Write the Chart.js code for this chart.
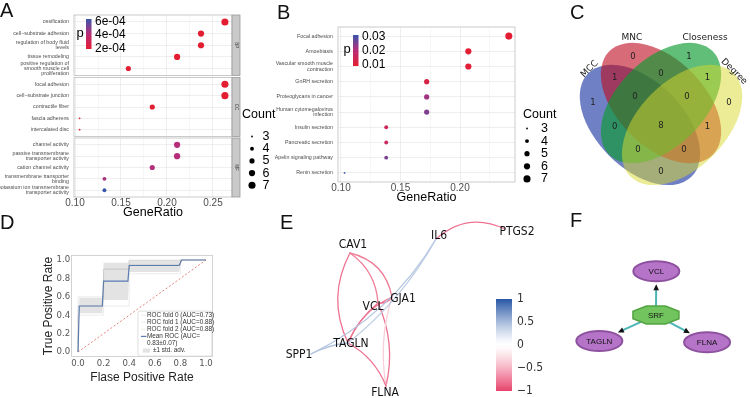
<!DOCTYPE html>
<html>
<head>
<meta charset="utf-8">
<script src="https://cdn.jsdelivr.net/npm/chart.js@4.4.1/dist/chart.umd.min.js"></script>
<style>
  html, body { margin: 0; padding: 0; background: #fff; }
  #page { position: relative; width: 750px; height: 398px; overflow: hidden; font-family: "Liberation Sans", Arial, sans-serif; }
  #page canvas { position: absolute; left: 0; top: 0; }
  .tag { position: absolute; font-size: 20px; line-height: 20px; color: #111; }
</style>
</head>
<body>
<div id="page">
  <canvas id="a1" width="750" height="398"></canvas>
  <canvas id="a2" width="750" height="398"></canvas>
  <canvas id="a3" width="750" height="398"></canvas>
  <canvas id="b" width="750" height="398"></canvas>
  <canvas id="c" width="750" height="398"></canvas>
  <canvas id="d" width="750" height="398"></canvas>
  <canvas id="e" width="750" height="398"></canvas>
  <canvas id="f" width="750" height="398"></canvas>
  <div class="tag" style="left:0px;top:0px">A</div>
  <div class="tag" style="left:277px;top:2px">B</div>
  <div class="tag" style="left:570px;top:2px">C</div>
  <div class="tag" style="left:0px;top:212px">D</div>
  <div class="tag" style="left:280px;top:212px">E</div>
  <div class="tag" style="left:570px;top:210px">F</div>
</div>
<script>
// ---- A: GO enrichment, three facets
const bpTerms = ['ossification', 'cell−substrate adhesion', ['regulation of body fluid', 'levels'], 'tissue remodeling', ['positive regulation of', 'smooth muscle cell', 'proliferation']];
const bpRatio = [0.263, 0.237, 0.237, 0.211, 0.158];
const bpCount = [7, 6, 6, 6, 5];
const bpP = [1.9e-4, 1.9e-4, 1.9e-4, 1.9e-4, 2.0e-4];

const ccTerms = ['focal adhesion', 'cell−substrate junction', 'contractile fiber', 'fascia adherens', 'intercalated disc'];
const ccRatio = [0.263, 0.263, 0.184, 0.105, 0.105];
const ccCount = [7, 7, 5, 3, 3];
const ccP = [1.9e-4, 1.9e-4, 1.9e-4, 2.0e-4, 2.0e-4];

const mfTerms = ['channel activity', ['passive transmembrane', 'transporter activity'], 'cation channel activity', ['transmembrane transporter', 'binding'], ['potassium ion transmembrane', 'transporter activity']];
const mfRatio = [0.211, 0.211, 0.184, 0.132, 0.132];
const mfCount = [6, 6, 5, 4, 4];
const mfP = [4.2e-4, 4.2e-4, 4.3e-4, 4.5e-4, 6.4e-4];

const ratioGridA = [0.1, 0.125, 0.15, 0.175, 0.2, 0.225, 0.25];
const ratioTicksA = [0.1, 0.15, 0.2, 0.25];
const pTicksA = [6e-4, 4e-4, 2e-4];
const pLabelsA = ['6e-04', '4e-04', '2e-04'];
const countTicks = [3, 4, 5, 6, 7];

// ---- B: KEGG enrichment
const keggTerms = ['Focal adhesion', 'Amoebiasis', ['Vascular smooth muscle', 'contraction'], 'GnRH secretion', 'Proteoglycans in cancer', ['Human cytomegalovirus', 'infection'], 'Insulin secretion', 'Pancreatic secretion', 'Apelin signaling pathway', 'Renin secretion'];
const keggRatio = [0.241, 0.207, 0.207, 0.172, 0.172, 0.172, 0.138, 0.138, 0.138, 0.103];
const keggCount = [7, 6, 6, 5, 5, 5, 4, 4, 4, 3];
const keggP = [0.009, 0.0095, 0.0098, 0.012, 0.022, 0.025, 0.015, 0.0165, 0.0255, 0.031];
const ratioGridB = [0.1, 0.125, 0.15, 0.175, 0.2, 0.225];
const ratioTicksB = [0.1, 0.15, 0.2];
const pTicksB = [0.03, 0.02, 0.01];
const pLabelsB = ['0.03', '0.02', '0.01'];

// ---- C: Venn of hub-gene methods (region key = MCC,MNC,Closeness,Degree)
const vennSets = ['MCC', 'MNC', 'Closeness', 'Degree'];
const vennRegions = ['1000', '0100', '0010', '0001', '1100', '0110', '0011', '1010', '0101', '1001', '1110', '0111', '1011', '1101', '1111'];
const vennCounts = [1, 0, 1, 0, 1, 0, 1, 0, 1, 0, 0, 0, 0, 0, 8];

// ---- D: ROC
const foldLabels = ['ROC fold 0 (AUC=0.73)', 'ROC fold 1 (AUC=0.88)', 'ROC fold 2 (AUC=0.88)'];
const foldFpr = [0, 0, 0.2, 0.2, 0.4, 0.4, 0.8, 0.8, 1];
const fold0Tpr = [0, 0.4, 0.4, 0.5, 0.5, 0.85, 0.85, 1, 1];
const fold1Tpr = [0, 0.5, 0.5, 0.9, 0.9, 0.95, 0.95, 1, 1];
const fold2Tpr = [0, 0.6, 0.6, 0.9, 0.9, 1, 1, 1, 1];
const meanFpr = [0, 0.01, 0.19, 0.2, 0.39, 0.4, 0.79, 0.81, 1];
const meanTpr = [0, 0.5, 0.5, 0.77, 0.77, 0.94, 0.94, 1, 1];
const stdHi = [0, 0.59, 0.59, 0.97, 0.97, 1, 1, 1, 1];
const stdLo = [0, 0.42, 0.42, 0.565, 0.565, 0.87, 0.87, 1, 1];
const rateTicks = [0, 0.2, 0.4, 0.6, 0.8, 1];

// ---- E: correlation network
const eNodes = ['CAV1', 'IL6', 'PTGS2', 'VCL', 'GJA1', 'TAGLN', 'SPP1', 'FLNA'];
const eFrom = ['CAV1', 'CAV1', 'CAV1', 'VCL', 'VCL', 'VCL', 'GJA1', 'GJA1', 'TAGLN', 'IL6', 'SPP1', 'TAGLN', 'SPP1'];
const eTo = ['TAGLN', 'VCL', 'GJA1', 'GJA1', 'TAGLN', 'FLNA', 'TAGLN', 'FLNA', 'FLNA', 'PTGS2', 'IL6', 'IL6', 'TAGLN'];
const eCorr = [-0.8, -0.75, -0.75, -0.85, -0.8, -0.8, -0.8, -0.35, -0.8, -0.8, 0.45, 0.4, 0.45];
const corrTicks = [1, 0.5, 0, -0.5, -1];
const corrLabels = ['1', '0.5', '0', '−0.5', '−1'];

// ---- F: TF network
const fNodes = ['SRF', 'VCL', 'TAGLN', 'FLNA'];
const fFrom = ['SRF', 'SRF', 'SRF'];
const fTo = ['VCL', 'TAGLN', 'FLNA'];

// ---- layout (not data)
const W = 750, H = 398;
const vennCx = [0.376, 0.5, 0.5, 0.624], vennCy = [0.371, 0.5, 0.5, 0.371], vennTilt = [1, 1, -1, -1];
const vennA = 0.43, vennB = 0.256;
const vennFill = ['rgba(17,43,157,0.6)', 'rgba(188,10,30,0.6)', 'rgba(10,155,47,0.65)', 'rgba(217,217,45,0.5)'];
const vennRegionX = [0.1, 0.335, 0.665, 0.9, 0.227, 0.5, 0.773, 0.227, 0.773, 0.5, 0.347, 0.653, 0.365, 0.635, 0.5];
const vennRegionY = [0.5, 0.773, 0.773, 0.5, 0.65, 0.671, 0.65, 0.362, 0.362, 0.094, 0.535, 0.535, 0.224, 0.224, 0.365];
const vennNameX = [0.08, 0.329, 0.759, 0.93], vennNameY = [0.7, 0.882, 0.882, 0.685], vennNameRot = [-45, 0, 0, 45];
const eNodeX = [3.6, 7.04, 9.8, 4.72, 5.28, 3.52, 2.04, 5.04];
const eNodeY = [5.8, 6.36, 6.76, 3.8, 4.04, 2.2, 1.76, 0.48];
const eLabelDX = [3, 3, 12, -5, 11, 3, -12, -1], eLabelDY = [-8, -3, 3, 4, 2, 1, 1, 7];
const eBend = [0.25, -0.24, -0.32, 0.3, 0.12, -0.17, 0.2, 0.12, -0.18, -0.33, 0.15, 0.1, -0.1];
const fNodeX = [0.505, 0.507, 0.207, 0.774], fNodeY = [0.437, 0.667, 0.3, 0.293];

const SANS = '"Liberation Sans", Arial, sans-serif';
const NARROW = '"Liberation Sans Narrow", "DejaVu Sans Condensed", "Liberation Sans", sans-serif';
const DEJAVU = '"DejaVu Sans", sans-serif';
Chart.defaults.font.family = SANS;
Chart.defaults.color = '#4d4d4d';
Chart.defaults.animation = false;
Chart.defaults.events = [];
Chart.defaults.plugins.legend.display = false;
Chart.defaults.plugins.tooltip.enabled = false;

const rOf = n => Math.sqrt(0.8 + 2.95 * (n - 3));
const lowCol = [228, 30, 50], midCol = [185, 45, 120], highCol = [55, 85, 170];
function pColor(v, min, max) {
  const t = Math.max(0, Math.min(1, (v - min) / (max - min)));
  const [c0, c1, u] = t < 0.5 ? [lowCol, midCol, t * 2] : [midCol, highCol, t * 2 - 1];
  return 'rgb(' + c0.map((c, i) => Math.round(c + (c1[i] - c) * u)).join(',') + ')';
}
const negCol = [232, 67, 108], posCol = [39, 87, 166];
function corrColor(r) {
  const c = r < 0 ? negCol : posCol, f = Math.pow(Math.abs(r), 1.3);
  return 'rgb(' + c.map(v => Math.round(255 + (v - 255) * f)).join(',') + ')';
}

const allPA = bpP.concat(ccP, mfP);
const pMinA = Math.min(...allPA), pMaxA = Math.max(...allPA);
const pMinB = Math.min(...keggP), pMaxB = Math.max(...keggP);

// ---- plugins
const frame = {
  id: 'frame',
  afterDatasetsDraw(chart, _a, o) {
    const { left, top, right, bottom } = chart.chartArea, c = chart.ctx;
    c.save();
    c.strokeStyle = o.color; c.lineWidth = o.width;
    c.strokeRect(left, top, right - left, bottom - top);
    if (o.strip) {
      c.fillStyle = '#c9c9c9';
      c.fillRect(right, top, o.strip, bottom - top);
      c.strokeStyle = '#9a9a9a';
      c.strokeRect(right, top, o.strip, bottom - top);
      c.translate(right + o.strip / 2, (top + bottom) / 2);
      c.rotate(Math.PI / 2);
      c.fillStyle = '#333'; c.font = '4.5px ' + SANS;
      c.textAlign = 'center'; c.textBaseline = 'middle';
      c.fillText(o.label, 0, 0);
    }
    c.restore();
  }
};

const pBar = {
  id: 'pBar',
  afterDraw(chart, _a, o) {
    const c = chart.ctx, { x, y, w, h, min, max, ticks, labels } = o;
    const g = c.createLinearGradient(0, y + h, 0, y);
    for (let k = 0; k <= 10; k++) g.addColorStop(k / 10, pColor(min + (max - min) * k / 10, min, max));
    c.save();
    c.fillStyle = g; c.fillRect(x, y, w, h);
    c.fillStyle = '#000'; c.font = '12px ' + SANS; c.textBaseline = 'middle'; c.textAlign = 'left';
    ticks.forEach((v, k) => c.fillText(labels[k], x + w + 3.5, y + h - (v - min) / (max - min) * h));
    c.font = '13px ' + SANS; c.textAlign = 'center';
    c.fillText('p', x - 6, y + h / 2 - 1);
    c.restore();
  }
};

const sizeKey = {
  id: 'sizeKey',
  afterDraw(chart, _a, o) {
    const c = chart.ctx;
    c.save(); c.fillStyle = '#000';
    c.font = '12.5px ' + SANS; c.textBaseline = 'middle'; c.textAlign = 'left';
    c.fillText('Count', o.x, o.y);
    countTicks.forEach((n, k) => {
      const yy = o.y0 + k * o.dy;
      c.beginPath(); c.arc(o.dot, yy, rOf(n), 0, 2 * Math.PI); c.fill();
      c.fillText(String(n), o.lab, yy);
    });
    c.restore();
  }
};

function ratioAxis(grid, major, min, max, show, h) {
  return {
    type: 'linear', min, max, bounds: 'data',
    afterBuildTicks: s => { s.ticks = grid.map(value => ({ value })); },
    afterFit: s => { s.height = h; },
    ticks: { display: show, autoSkip: false, maxRotation: 0, padding: 0, color: '#4d4d4d', font: { size: 10 },
             callback: v => major.includes(v) ? v.toFixed(2) : '' },
    grid: { drawTicks: false, lineWidth: 0.6, color: c => major.includes(c.tick.value) ? '#e3e3e3' : '#f1f1f1' },
    border: { display: false },
    title: { display: show, text: 'GeneRatio', color: '#000', font: { size: 12.5 }, padding: 0 }
  };
}
function termAxis(terms, width) {
  return {
    type: 'linear', reverse: true, min: -0.6, max: terms.length - 0.4, bounds: 'data',
    afterBuildTicks: s => { s.ticks = terms.map((_, value) => ({ value })); },
    afterFit: s => { s.width = width; },
    ticks: { autoSkip: false, padding: 5, color: '#4d4d4d', font: { size: 5.3, lineHeight: 1 }, callback: v => terms[v] },
    grid: { drawTicks: false, lineWidth: 0.6, color: '#e3e3e3' },
    border: { display: false }
  };
}

function facet(id, terms, ratio, count, p, top, bottom, label, last, extra, extraPlugins) {
  const xh = last ? 23.3 : 0;
  return new Chart(document.getElementById(id), {
    type: 'bubble',
    data: { datasets: [{
      data: ratio.map((x, i) => ({ x, y: i, r: rOf(count[i]) })),
      backgroundColor: p.map(v => pColor(v, pMinA, pMaxA)),
      borderWidth: 0
    }] },
    options: {
      responsive: false, devicePixelRatio: 1,
      layout: { padding: { left: 0, top, right: W - 232, bottom: H - bottom - xh } },
      scales: { x: ratioAxis(ratioGridA, ratioTicksA, 0.0989, 0.2707, last, xh), y: termAxis(terms, 74) },
      plugins: Object.assign({ frame: { color: '#bdbdbd', width: 0.8, strip: 8, label } }, extra)
    },
    plugins: [frame].concat(extraPlugins)
  });
}

facet('a1', bpTerms, bpRatio, bpCount, bpP, 15, 75.5, 'BP', false,
  { pBar: { x: 86, y: 19, w: 5.5, h: 30, min: pMinA, max: pMaxA, ticks: pTicksA, labels: pLabelsA } }, [pBar]);
facet('a2', ccTerms, ccRatio, ccCount, ccP, 77.5, 136.5, 'CC', false, {}, []);
facet('a3', mfTerms, mfRatio, mfCount, mfP, 138, 197, 'MF', true,
  { sizeKey: { x: 242, y: 115, y0: 136.5, dy: 12.2, dot: 252, lab: 262.5 } }, [sizeKey]);

// ---- B
new Chart(document.getElementById('b'), {
  type: 'bubble',
  data: { datasets: [{
    data: keggRatio.map((x, i) => ({ x, y: i, r: rOf(keggCount[i]) })),
    backgroundColor: keggP.map(v => pColor(v, pMinB, pMaxB)),
    borderWidth: 0
  }] },
  options: {
    responsive: false, devicePixelRatio: 1,
    layout: { padding: { left: 258, top: 27, right: W - 515, bottom: H - 182 - 23.4 } },
    scales: { x: ratioAxis(ratioGridB, ratioTicksB, 0.0975, 0.2462, true, 23.4), y: termAxis(keggTerms, 80) },
    plugins: {
      frame: { color: '#bdbdbd', width: 0.8 },
      pBar: { x: 353, y: 35, w: 5.5, h: 31, min: pMinB, max: pMaxB, ticks: pTicksB, labels: pLabelsB },
      sizeKey: { x: 523, y: 115, y0: 128.5, dy: 12.6, dot: 527, lab: 541 }
    }
  },
  plugins: [frame, pBar, sizeKey]
});

// ---- C: Venn
const venn = {
  id: 'venn',
  beforeDatasetsDraw(chart) {
    const c = chart.ctx, sx = chart.scales.x, sy = chart.scales.y;
    const k = sx.getPixelForValue(1) - sx.getPixelForValue(0);
    c.save();
    vennSets.forEach((s, i) => {
      c.fillStyle = vennFill[i];
      c.beginPath();
      c.ellipse(sx.getPixelForValue(vennCx[i]), sy.getPixelForValue(vennCy[i]), vennA * k, vennB * k, vennTilt[i] * Math.PI / 4, 0, 2 * Math.PI);
      c.fill();
    });
    c.fillStyle = '#222'; c.textAlign = 'center'; c.textBaseline = 'middle';
    c.font = '9px ' + DEJAVU;
    vennSets.forEach((s, i) => {
      c.save();
      c.translate(sx.getPixelForValue(vennNameX[i]), sy.getPixelForValue(vennNameY[i]));
      c.rotate(vennNameRot[i] * Math.PI / 180);
      c.fillText(s, 0, 0);
      c.restore();
    });
    c.font = '8.5px ' + DEJAVU;
    const meta = chart.getDatasetMeta(0);
    meta.data.forEach((pt, i) => c.fillText(String(vennCounts[i]), pt.x, pt.y));
    c.restore();
  }
};
new Chart(document.getElementById('c'), {
  type: 'scatter',
  data: { datasets: [{ label: 'regions', data: vennRegions.map((r, i) => ({ x: vennRegionX[i], y: vennRegionY[i] })), pointRadius: 0 }] },
  options: {
    responsive: false, devicePixelRatio: 1,
    layout: { padding: { left: 576, top: 35, right: W - 746, bottom: H - 188 } },
    scales: { x: { display: false, min: 0, max: 1 }, y: { display: false, min: 0, max: 0.9 } }
  },
  plugins: [venn]
});

// ---- D: ROC
const rocKey = {
  id: 'rocKey',
  afterDraw(chart) {
    const c = chart.ctx, a = chart.chartArea;
    const r = a.right - 0.5, b = a.bottom - 0.5, l = r - 74, t = b - 45;
    c.save();
    c.fillStyle = 'rgba(255,255,255,0.85)'; c.strokeStyle = '#d6d6d6'; c.lineWidth = 0.8;
    c.beginPath();
    if (c.roundRect) c.roundRect(l, t, r - l, b - t, 2); else c.rect(l, t, r - l, b - t);
    c.fill(); c.stroke();
    c.font = '6.4px ' + SANS; c.textBaseline = 'middle'; c.textAlign = 'left';
    let y = t + 4;
    chart.data.datasets.forEach(ds => {
      if (!ds.label) return;
      if (ds.fill) {
        c.fillStyle = ds.backgroundColor; c.fillRect(l + 5, y - 2, 7, 4);
      } else {
        c.strokeStyle = ds.borderColor; c.lineWidth = ds.borderWidth;
        c.beginPath(); c.moveTo(l + 3, y); c.lineTo(l + 8.5, y); c.stroke();
      }
      c.fillStyle = '#333';
      [].concat(ds.label).forEach(s => { c.fillText(s, l + (ds.fill ? 15 : 9), y); y += 7.1; });
    });
    c.restore();
  }
};
const pts = (xs, ys) => xs.map((x, i) => ({ x, y: ys[i] }));
const rateAxis = (title, w, h) => ({
  type: 'linear', min: -0.05, max: 1.05, bounds: 'data',
  afterBuildTicks: s => { s.ticks = rateTicks.map(value => ({ value })); },
  afterFit: s => { if (w) s.width = w; if (h) s.height = h; },
  ticks: { autoSkip: false, maxRotation: 0, padding: 1.5, color: '#555', font: { family: NARROW, size: 9.5 }, callback: v => v.toFixed(1) },
  grid: { display: false, drawTicks: false },
  border: { display: false },
  title: { display: true, text: title, color: '#222', font: { size: 12 }, padding: 0 }
});
new Chart(document.getElementById('d'), {
  type: 'scatter',
  data: { datasets: [
    { label: foldLabels[0], data: pts(foldFpr, fold0Tpr), showLine: true, borderColor: 'rgba(120,120,120,0.18)', borderWidth: 0.8, pointRadius: 0 },
    { label: foldLabels[1], data: pts(foldFpr, fold1Tpr), showLine: true, borderColor: 'rgba(120,120,120,0.18)', borderWidth: 0.8, pointRadius: 0 },
    { label: foldLabels[2], data: pts(foldFpr, fold2Tpr), showLine: true, borderColor: 'rgba(120,120,120,0.18)', borderWidth: 0.8, pointRadius: 0 },
    { label: ['Mean ROC (AUC=', '0.83±0.07)'], data: pts(meanFpr, meanTpr), showLine: true, borderColor: '#5a7db3', borderWidth: 1.2, pointRadius: 0 },
    { label: '±1 std. adv.', data: pts(meanFpr, stdHi), showLine: true, borderWidth: 0, pointRadius: 0, fill: '+1', backgroundColor: 'rgba(185,185,185,0.4)' },
    { data: pts(meanFpr, stdLo), showLine: true, borderWidth: 0, pointRadius: 0, fill: false },
    { data: [{ x: 0, y: 0 }, { x: 1, y: 1 }], showLine: true, borderColor: '#e0625c', borderWidth: 0.8, borderDash: [2, 2], pointRadius: 0 }
  ] },
  options: {
    responsive: false, devicePixelRatio: 1,
    layout: { padding: { left: 41.8, top: 255.4, right: W - 212.4, bottom: H - 356.6 - 28.1 } },
    scales: { x: rateAxis('Flase Positive Rate', 0, 28.1), y: rateAxis('True Positive Rate', 29.8, 0) },
    plugins: { frame: { color: '#c8c8c8', width: 0.8 } }
  },
  plugins: [frame, rocKey]
});

// ---- E: correlation network
const netE = {
  id: 'netE',
  afterDatasetsDraw(chart) {
    const c = chart.ctx, sx = chart.scales.x, sy = chart.scales.y;
    const P = n => { const i = eNodes.indexOf(n); return [sx.getPixelForValue(eNodeX[i]), sy.getPixelForValue(eNodeY[i])]; };
    c.save();
    c.lineWidth = 1.3; c.lineCap = 'round';
    eFrom.forEach((f, k) => {
      const [x1, y1] = P(f), [x2, y2] = P(eTo[k]);
      const dx = x2 - x1, dy = y2 - y1;
      const cx = (x1 + x2) / 2 - dy * eBend[k], cy = (y1 + y2) / 2 + dx * eBend[k];
      c.strokeStyle = corrColor(eCorr[k]);
      c.beginPath(); c.moveTo(x1, y1); c.quadraticCurveTo(cx, cy, x2, y2); c.stroke();
    });
    c.fillStyle = '#111'; c.textAlign = 'center'; c.textBaseline = 'middle';
    c.font = '12px ' + NARROW;
    eNodes.forEach((n, i) => { const [x, y] = P(n); c.fillText(n, x + eLabelDX[i], y + eLabelDY[i]); });
    // colour bar
    const bx = 496, by = 299, bw = 16, bh = 92;
    const g = c.createLinearGradient(0, by + bh, 0, by);
    for (let k = 0; k <= 20; k++) g.addColorStop(k / 20, corrColor(-1 + k / 10));
    c.fillStyle = g; c.fillRect(bx, by, bw, bh);
    c.fillStyle = '#333'; c.textAlign = 'left'; c.font = '12px ' + NARROW;
    corrTicks.forEach((v, k) => c.fillText(corrLabels[k], bx + bw + 5, by + bh / 2 - v * bh / 2));
    c.restore();
  }
};
new Chart(document.getElementById('e'), {
  type: 'scatter',
  data: { datasets: [{ data: eNodes.map((n, i) => ({ x: eNodeX[i], y: eNodeY[i] })), pointRadius: 0 }] },
  options: {
    responsive: false, devicePixelRatio: 1,
    layout: { padding: { left: 260, top: 198, right: W - 510, bottom: 0 } },
    scales: { x: { display: false, min: 0, max: 10 }, y: { display: false, min: 0, max: 8 } }
  },
  plugins: [netE]
});

// ---- F: TF network
const netF = {
  id: 'netF',
  afterDatasetsDraw(chart) {
    const c = chart.ctx, sx = chart.scales.x, sy = chart.scales.y;
    const P = i => [sx.getPixelForValue(fNodeX[i]), sy.getPixelForValue(fNodeY[i])];
    const RX = 23, RY = 10;
    const reach = (ux, uy) => 1 / Math.hypot(ux / RX, uy / RY);
    c.save();
    fFrom.forEach((f, k) => {
      const [x1, y1] = P(fNodes.indexOf(f)), [x2, y2] = P(fNodes.indexOf(fTo[k]));
      const len = Math.hypot(x2 - x1, y2 - y1), ux = (x2 - x1) / len, uy = (y2 - y1) / len;
      const s = reach(ux, uy) - 1, e = reach(ux, uy) + 3;
      const tx = x2 - ux * e, ty = y2 - uy * e;
      c.strokeStyle = '#4cb5b5'; c.lineWidth = 2;
      c.beginPath(); c.moveTo(x1 + ux * s, y1 + uy * s); c.lineTo(tx - ux * 5, ty - uy * 5); c.stroke();
      c.fillStyle = '#111';
      c.beginPath(); c.moveTo(tx, ty);
      c.lineTo(tx - ux * 6 - uy * 2.8, ty - uy * 6 + ux * 2.8);
      c.lineTo(tx - ux * 6 + uy * 2.8, ty - uy * 6 - ux * 2.8);
      c.closePath(); c.fill();
    });
    fNodes.forEach((n, i) => {
      const [x, y] = P(i);
      c.beginPath();
      if (i === 0) {
        const k = 1 / Math.cos(Math.PI / 8);
        for (let j = 0; j < 8; j++) {
          const a = Math.PI / 8 + j * Math.PI / 4;
          c.lineTo(x + RX * k * Math.cos(a), y + (RY - 1) * k * Math.sin(a));
        }
        c.closePath();
        c.fillStyle = '#72c45e'; c.strokeStyle = '#53a343'; c.lineWidth = 1.5;
      } else {
        c.ellipse(x, y, RX, RY, 0, 0, 2 * Math.PI);
        c.fillStyle = '#b574c7'; c.strokeStyle = '#8e519f'; c.lineWidth = 2;
      }
      c.fill(); c.stroke();
      c.fillStyle = '#111'; c.font = '8px ' + SANS; c.textAlign = 'center'; c.textBaseline = 'middle';
      c.fillText(n, x, y + 0.5);
    });
    c.restore();
  }
};
new Chart(document.getElementById('f'), {
  type: 'scatter',
  data: { datasets: [{ data: fNodes.map((n, i) => ({ x: fNodeX[i], y: fNodeY[i] })), pointRadius: 0 }] },
  options: {
    responsive: false, devicePixelRatio: 1,
    layout: { padding: { left: 560, top: 240, right: 0, bottom: 0 } },
    scales: { x: { display: false, min: 0, max: 1 }, y: { display: false, min: 0, max: 0.8316 } }
  },
  plugins: [netF]
});
</script>
</body>
</html>
